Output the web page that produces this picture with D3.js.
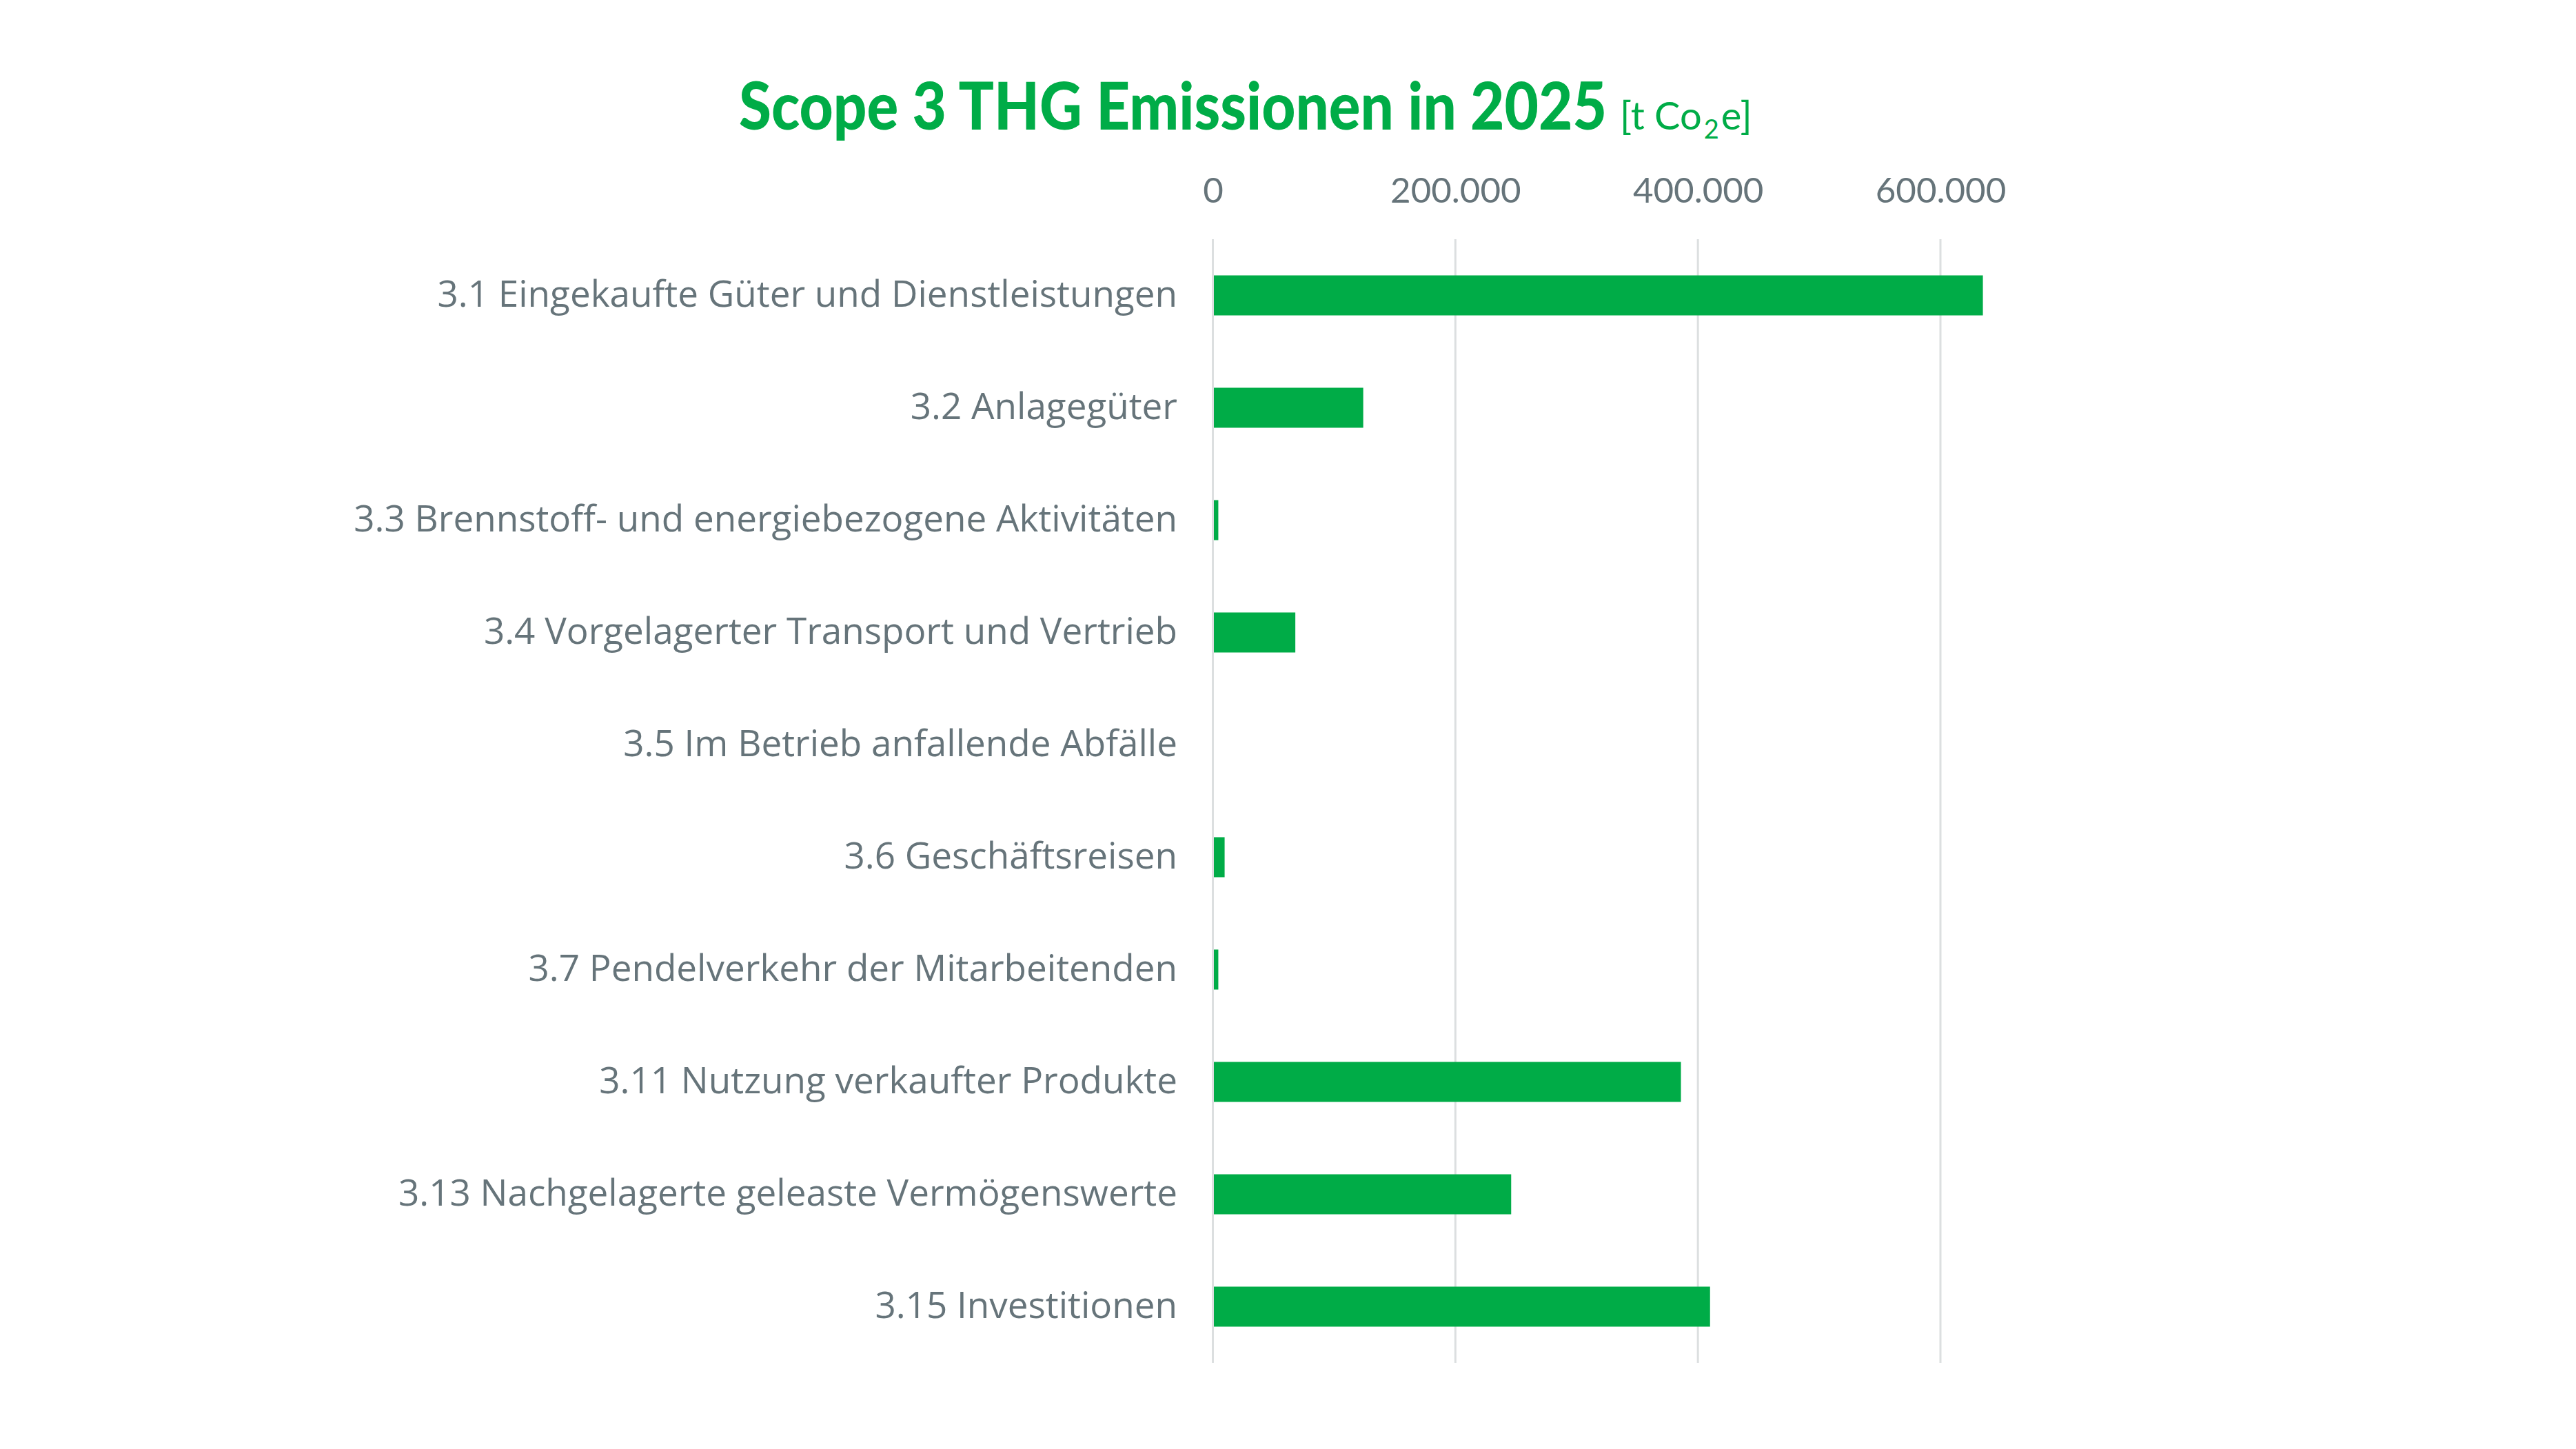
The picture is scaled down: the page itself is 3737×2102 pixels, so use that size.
<!DOCTYPE html>
<html>
<head>
<meta charset="utf-8">
<script src="https://cdn.jsdelivr.net/npm/d3@7"></script>
<style>
	body { margin: 0; background: #fff; }
	svg { display: block; }
</style>
</head>
<body>
<div id="chart"></div>
<script>
var categories = [
	"3.1 Eingekaufte Güter und Dienstleistungen",
	"3.2 Anlagegüter",
	"3.3 Brennstoff- und energiebezogene Aktivitäten",
	"3.4 Vorgelagerter Transport und Vertrieb",
	"3.5 Im Betrieb anfallende Abfälle",
	"3.6 Geschäftsreisen",
	"3.7 Pendelverkehr der Mitarbeitenden",
	"3.11 Nutzung verkaufter Produkte",
	"3.13 Nachgelagerte geleaste Vermögenswerte",
	"3.15 Investitionen"
];
var emissions = [635000, 124000, 4500, 68000, 0, 9700, 4500, 386000, 246000, 410000];
var tickValues = [0, 200000, 400000, 600000];
var titleText = "Scope 3 THG Emissionen in 2025";
var unitParts = ["[t Co", "2", "e]"];

var width = 3737,
	height = 2102;
var green = "#00ac47",
	grey = "#66747a",
	gridColor = "#dcdfe0";

var de = d3.formatLocale({ decimal: ",", thousands: ".", grouping: [3], currency: ["", " €"] });
var fmt = de.format(",.0f");

var data = categories.map(function(c, i) {
	return { name: c, value: emissions[i] };
});

var svg = d3.select("#chart").append("svg")
	.attr("width", width)
	.attr("height", height);

var x = d3.scaleLinear()
	.domain([0, 600000])
	.range([1759.5, 2815]);

var y = d3.scaleBand()
	.domain(categories)
	.range([347, 1977])
	.paddingInner(0.644)
	.paddingOuter(0.322);

// gridlines
svg.append("g")
	.selectAll("line")
	.data(tickValues)
	.enter().append("line")
	.attr("x1", function(d) { return x(d); })
	.attr("x2", function(d) { return x(d); })
	.attr("y1", y.range()[0])
	.attr("y2", y.range()[1])
	.attr("stroke", gridColor)
	.attr("stroke-width", 3);

// top axis labels
var xAxis = d3.axisTop(x)
	.tickValues(tickValues)
	.tickFormat(fmt)
	.tickSize(0)
	.tickPadding(0);

var gx = svg.append("g")
	.attr("transform", "translate(0,276)")
	.call(xAxis);
gx.select(".domain").remove();
gx.selectAll("text")
	.attr("fill", grey)
	.attr("dy", "0.35em")
	.style("font-family", "Lato")
	.style("font-size", "51px");

// bars
svg.append("g")
	.selectAll("rect")
	.data(data)
	.enter().append("rect")
	.attr("x", x(0) + 1.5)
	.attr("y", function(d) { return y(d.name); })
	.attr("width", function(d) { return Math.max(0, x(d.value) - x(0) - 1.5); })
	.attr("height", y.bandwidth())
	.attr("fill", green);

// category labels
var yAxis = d3.axisLeft(y)
	.tickSize(0)
	.tickPadding(0);

var gy = svg.append("g")
	.attr("transform", "translate(1708,0)")
	.call(yAxis);
gy.select(".domain").remove();
gy.selectAll("text")
	.attr("fill", grey)
	.style("font-family", "Open Sans")
	.style("font-size", "53px");

// title
svg.append("text")
	.attr("x", 1072)
	.attr("y", 188)
	.attr("fill", green)
	.attr("textLength", 1259)
	.attr("lengthAdjust", "spacingAndGlyphs")
	.style("font-family", "Lato")
	.style("font-weight", 900)
	.style("font-size", "96px")
	.text(titleText);

// unit, as separate pieces so the subscript sits on its own
var ux = 2350;
var unitSizes = [56, 38, 56],
	unitShift = [0, 13, 0];
unitParts.forEach(function(p, i) {
	var t = svg.append("text")
		.attr("x", ux)
		.attr("y", 188 + unitShift[i])
		.attr("fill", green)
		.style("font-family", "Lato")
		.style("font-size", unitSizes[i] + "px")
		.text(p);
	ux += t.node().getComputedTextLength() + 3;
});
</script>
</body>
</html>
